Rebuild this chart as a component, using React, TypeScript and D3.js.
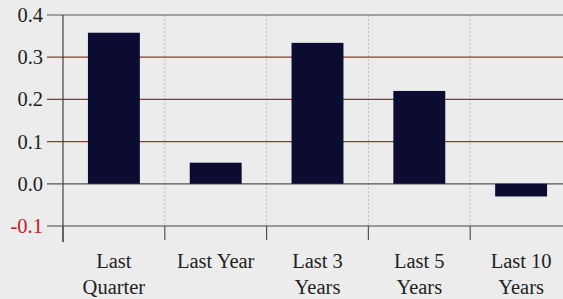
import React, { useEffect, useRef } from 'react';
import * as d3 from 'd3';

const categories = ['Last Quarter', 'Last Year', 'Last 3 Years', 'Last 5 Years', 'Last 10 Years'];
const labelLines = [['Last', 'Quarter'], ['Last Year'], ['Last 3', 'Years'], ['Last 5', 'Years'], ['Last 10', 'Years']];
const values = [0.358, 0.05, 0.334, 0.22, -0.03];
const yTicks = [-0.1, 0, 0.1, 0.2, 0.3, 0.4];

const W = 563;
const H = 299;

export default function App() {
  const ref = useRef<SVGSVGElement>(null);

  useEffect(() => {
    const svg = d3.select(ref.current);
    svg.selectAll('*').remove();

    const x = d3.scaleBand().domain(categories).range([63, 572]).paddingInner(0.49).paddingOuter(0.245);
    const y = d3.scaleLinear().domain([-0.1, 0.4]).range([226, 15]);
    const step = x.step();
    const font = 'Liberation Serif, DejaVu Serif, serif';

    svg.append('rect').attr('width', W).attr('height', H).attr('fill', '#ececec');

    // vertical dotted separators
    svg.append('g')
      .selectAll('line')
      .data(d3.range(1, categories.length))
      .enter()
      .append('line')
      .attr('x1', i => 63 + i * step)
      .attr('x2', i => 63 + i * step)
      .attr('y1', 15)
      .attr('y2', 226)
      .attr('stroke', '#bdbdbd')
      .attr('stroke-dasharray', '2,2');

    // horizontal grid lines
    svg.append('g')
      .selectAll('line')
      .data(yTicks.slice(1))
      .enter()
      .append('line')
      .attr('x1', 47)
      .attr('x2', W)
      .attr('y1', d => y(d))
      .attr('y2', d => y(d))
      .attr('stroke', d => (d === 0 || d === 0.4 ? '#555' : '#8a3b2e'))
      .attr('stroke-width', 1.2);

    // bars
    svg.append('g')
      .selectAll('rect')
      .data(values)
      .enter()
      .append('rect')
      .attr('x', (d, i) => x(categories[i])!)
      .attr('width', x.bandwidth())
      .attr('y', d => y(Math.max(0, d)))
      .attr('height', d => Math.abs(y(d) - y(0)))
      .attr('fill', '#0c0c33');

    // x axis line and ticks
    svg.append('line')
      .attr('x1', 47).attr('x2', W)
      .attr('y1', y(-0.1)).attr('y2', y(-0.1))
      .attr('stroke', '#444').attr('stroke-width', 1.2);
    svg.append('g')
      .selectAll('line')
      .data(d3.range(categories.length))
      .enter()
      .append('line')
      .attr('x1', i => 63 + i * step)
      .attr('x2', i => 63 + i * step)
      .attr('y1', y(-0.1))
      .attr('y2', i => (i === 0 ? 242 : 240))
      .attr('stroke', '#555')
      .attr('stroke-width', 1.2);

    // y axis
    svg.append('line')
      .attr('x1', 63).attr('x2', 63)
      .attr('y1', y(0.4)).attr('y2', 242)
      .attr('stroke', '#444').attr('stroke-width', 1.2);

    svg.append('g')
      .selectAll('text')
      .data(yTicks)
      .enter()
      .append('text')
      .attr('x', 43)
      .attr('y', d => y(d) + 7)
      .attr('text-anchor', 'end')
      .attr('font-family', font)
      .attr('font-size', 20.5)
      .attr('fill', d => (d < 0 ? '#c0201e' : '#222'))
      .text(d => d3.format('.1f')(d).replace('\u2212', '-'));

    // category labels
    const lab = svg.append('g')
      .selectAll('text')
      .data(labelLines)
      .enter()
      .append('text')
      .attr('text-anchor', 'middle')
      .attr('font-family', font)
      .attr('font-size', 20.5)
      .attr('fill', '#222');
    lab.each(function (lines, i) {
      const cx = x(categories[i])! + x.bandwidth() / 2;
      lines.forEach((t, j) => {
        d3.select(this).append('tspan').attr('x', cx).attr('y', 268 + j * 26).text(t);
      });
    });
  }, []);

  return <svg ref={ref} width={W} height={H} style={{ position: 'absolute', left: 0, top: 0 }} />;
}
